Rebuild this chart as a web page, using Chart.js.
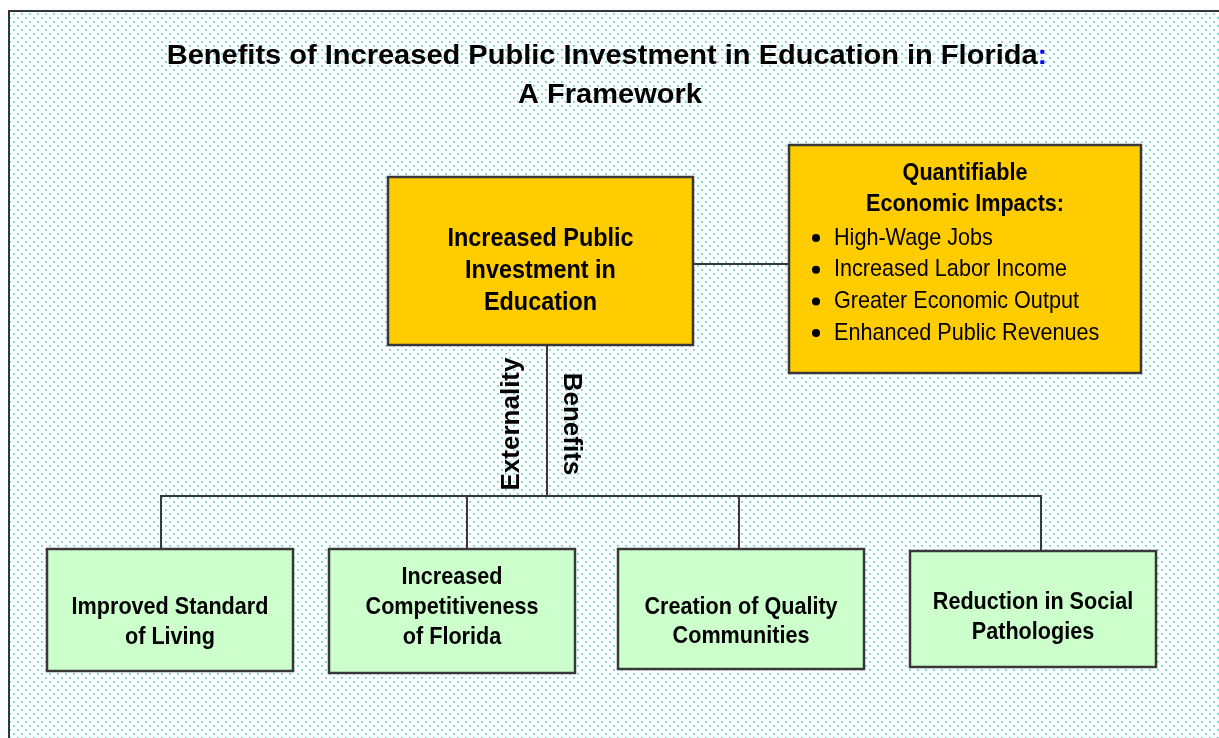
<!DOCTYPE html>
<html>
<head>
<meta charset="utf-8">
<title>Benefits of Increased Public Investment in Education in Florida</title>
<script src="https://cdn.jsdelivr.net/npm/chart.js@4.4.1/dist/chart.umd.min.js"></script>
<style>
  html, body { margin: 0; padding: 0; background: #fff; }
</style>
</head>
<body>
<canvas id="chartFramework" width="1219" height="738"></canvas>
<script>
// texts of the diagram
const titleLines = ["Benefits of Increased Public Investment in Education in Florida", "A Framework"];
const titleSuffix = ":";
const hubLabel = ["Increased Public", "Investment in", "Education"];
const impactsHeading = ["Quantifiable", "Economic Impacts:"];
const impactItems = ["High-Wage Jobs", "Increased Labor Income", "Greater Economic Output", "Enhanced Public Revenues"];
const benefitLabels = [
    ["Improved Standard", "of Living"],
    ["Increased", "Competitiveness", "of Florida"],
    ["Creation of Quality", "Communities"],
    ["Reduction in Social", "Pathologies"]
];
const linkLabels = ["Externality", "Benefits"];

// layout, in axis units (x 0..1219, y 0..738 top-down)
const hubBox = { x1: 388, y1: 177, x2: 693, y2: 345 };
const impactsBox = { x1: 789, y1: 145, x2: 1141, y2: 373 };
const benefitBoxes = [
    { x1: 47, y1: 549, x2: 293, y2: 671, lines: [607, 637] },
    { x1: 329, y1: 549, x2: 575, y2: 673, lines: [577, 607, 637] },
    { x1: 618, y1: 549, x2: 864, y2: 669, lines: [607, 636] },
    { x1: 910, y1: 551, x2: 1156, y2: 667, lines: [602, 632] }
];
const dropX = [161, 467, 739, 1041];
const busY = 496;
const trunkX = 547;
const sideLinkY = 264;

const lineColor = "#383838";
const hubColor = "#ffcc00";
const benefitColor = "#ccffcc";
const narrow = 0.9;

function segment(x1, y1, x2, y2){
    return {
        data: [{ x: x1, y: y1 }, { x: x2, y: y2 }],
        showLine: true,
        borderColor: lineColor,
        borderWidth: 2,
        borderCapStyle: "square",
        pointRadius: 0,
        fill: false
    };
}

const datasets = [
    segment(hubBox.x2, sideLinkY, impactsBox.x1, sideLinkY),
    segment(trunkX, hubBox.y2, trunkX, busY),
    segment(dropX[0], busY, dropX[dropX.length - 1], busY)
];
dropX.forEach((x, i) => {
    datasets.push(segment(x, busY, x, benefitBoxes[i].y1));
});

function drawText(ctx, text, x, y, font, scaleX, align, color){
    ctx.save();
    ctx.translate(x, y);
    ctx.scale(scaleX, 1);
    ctx.font = font;
    ctx.textAlign = align;
    ctx.textBaseline = "middle";
    ctx.fillStyle = color || "#000";
    ctx.fillText(text, 0, 0);
    ctx.restore();
}

function dotPattern(ctx){
    const tile = document.createElement("canvas");
    tile.width = 8;
    tile.height = 8;
    const t = tile.getContext("2d");
    t.fillStyle = "#ffffff";
    t.fillRect(0, 0, 8, 8);
    t.fillStyle = "#8fe2e2";
    t.fillRect(1, 1, 2, 2);
    t.fillRect(5, 5, 2, 2);
    t.fillStyle = "#4fd2d2";
    t.fillRect(1, 1, 1, 1);
    t.fillRect(5, 5, 1, 1);
    return ctx.createPattern(tile, "repeat");
}

const backgroundPlugin = {
    id: "background",
    beforeDraw(chart){
        const ctx = chart.ctx;
        const sx = chart.scales.x, sy = chart.scales.y;
        const left = sx.getPixelForValue(10), top = sy.getPixelForValue(12);
        ctx.save();
        ctx.fillStyle = "#ffffff";
        ctx.fillRect(0, 0, chart.width, chart.height);
        ctx.fillStyle = dotPattern(ctx);
        ctx.fillRect(left, top, chart.width - left, chart.height - top);
        ctx.fillStyle = "#333333";
        ctx.fillRect(left - 2, top - 2, chart.width, 2);
        ctx.fillRect(left - 2, top - 2, 2, chart.height);
        ctx.restore();
    }
};

const boxesPlugin = {
    id: "boxes",
    afterDatasetsDraw(chart){
        const ctx = chart.ctx;
        const sx = chart.scales.x, sy = chart.scales.y;
        const px = v => sx.getPixelForValue(v);
        const py = v => sy.getPixelForValue(v);

        function box(b, fill){
            const x = px(b.x1), y = py(b.y1), w = px(b.x2) - x, h = py(b.y2) - y;
            ctx.save();
            ctx.fillStyle = fill;
            ctx.fillRect(x, y, w, h);
            ctx.strokeStyle = lineColor;
            ctx.lineWidth = 2.5;
            ctx.strokeRect(x, y, w, h);
            ctx.restore();
        }

        // title
        const titleFont = "bold 27px 'Liberation Sans', Arial, sans-serif";
        ctx.save();
        ctx.font = titleFont;
        const wMain = ctx.measureText(titleLines[0]).width;
        const wSuffix = ctx.measureText(titleSuffix).width;
        ctx.restore();
        const titleScale = 1.075;
        const titleX = px(607) - (wMain + wSuffix) * titleScale / 2;
        drawText(ctx, titleLines[0], titleX, py(57), titleFont, titleScale, "left", "#000");
        drawText(ctx, titleSuffix, titleX + wMain * titleScale, py(57), titleFont, titleScale, "left", "#0000ff");
        drawText(ctx, titleLines[1], px(610), py(96), titleFont, titleScale, "center", "#000");

        // hub box
        box(hubBox, hubColor);
        const hubCx = px((hubBox.x1 + hubBox.x2) / 2);
        hubLabel.forEach((line, i) => {
            drawText(ctx, line, hubCx, py(239 + i * 32), "bold 26px 'Liberation Sans', Arial, sans-serif", narrow, "center");
        });

        // impacts box
        box(impactsBox, hubColor);
        const impCx = px(965);
        impactsHeading.forEach((line, i) => {
            drawText(ctx, line, impCx, py(173 + i * 31), "bold 24px 'Liberation Sans', Arial, sans-serif", narrow, "center");
        });
        impactItems.forEach((item, i) => {
            const y = py(238 + i * 31.7);
            ctx.save();
            ctx.fillStyle = "#000";
            ctx.beginPath();
            ctx.arc(px(816), y, 4, 0, Math.PI * 2);
            ctx.fill();
            ctx.restore();
            drawText(ctx, item, px(834), y, "24px 'Liberation Sans', Arial, sans-serif", narrow, "left");
        });

        // benefit boxes
        benefitBoxes.forEach((b, i) => {
            box(b, benefitColor);
            const cx = px((b.x1 + b.x2) / 2);
            benefitLabels[i].forEach((line, j) => {
                drawText(ctx, line, cx, py(b.lines[j]), "bold 24px 'Liberation Sans', Arial, sans-serif", narrow, "center");
            });
        });

        // rotated link labels
        const linkFont = "bold 26px 'Liberation Sans', Arial, sans-serif";
        ctx.save();
        ctx.translate(px(512), py(424));
        ctx.rotate(-Math.PI / 2);
        drawText(ctx, linkLabels[0], 0, 0, linkFont, 1, "center");
        ctx.restore();
        ctx.save();
        ctx.translate(px(571), py(424));
        ctx.rotate(Math.PI / 2);
        drawText(ctx, linkLabels[1], 0, 0, linkFont, 1, "center");
        ctx.restore();
    }
};

document.addEventListener("DOMContentLoaded", () => {
    const ctx = document.getElementById("chartFramework");
    new Chart(ctx, {
        type: "scatter",
        data: { datasets: datasets },
        options: {
            responsive: false,
            animation: false,
            layout: { padding: 0 },
            scales: {
                x: { type: "linear", min: 0, max: 1219, display: false },
                y: { type: "linear", min: 0, max: 738, reverse: true, display: false }
            },
            plugins: {
                legend: { display: false },
                tooltip: { enabled: false }
            }
        },
        plugins: [backgroundPlugin, boxesPlugin]
    });
});
</script>
</body>
</html>
